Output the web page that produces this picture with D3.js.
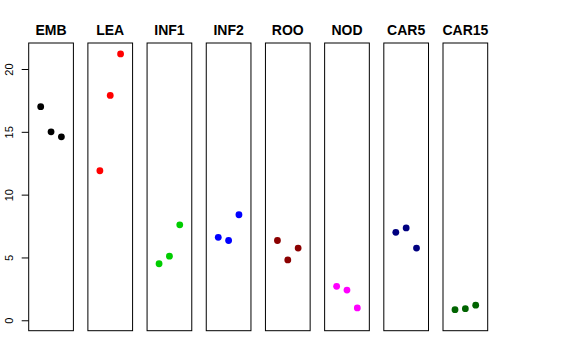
<!DOCTYPE html>
<head>
<meta charset="utf-8">
<style>
body { margin: 0; background: #fff; }
.title { font-family: "Liberation Sans", Arial, sans-serif; font-weight: bold; font-size: 14px; }
.ytick text { font-family: "Liberation Sans", Arial, sans-serif; font-size: 11px; }
</style>
</head>
<body>
<svg width="576" height="360"></svg>
<script src="https://d3js.org/d3.v7.min.js"></script>
<script>
// panel names and their three values each
var groups = ["EMB", "LEA", "INF1", "INF2", "ROO", "NOD", "CAR5", "CAR15"];
var EMB   = [17.0, 15.0, 14.6];
var LEA   = [11.9, 17.9, 21.2];
var INF1  = [4.5, 5.1, 7.6];
var INF2  = [6.6, 6.35, 8.4];
var ROO   = [6.35, 4.8, 5.75];
var NOD   = [2.7, 2.4, 0.98];
var CAR5  = [7.0, 7.35, 5.75];
var CAR15 = [0.84, 0.92, 1.2];
var values = [EMB, LEA, INF1, INF2, ROO, NOD, CAR5, CAR15];
var colors = ["#000000", "#FF0000", "#00CD00", "#0000FF", "#8B0000", "#FF00FF", "#000080", "#006400"];
var yTicks = [0, 5, 10, 15, 20];

var svg = d3.select("svg");

// y scale shared by all panels
var y = d3.scaleLinear().domain([-0.83, 22.07]).range([330.7, 43]);

// each panel gets a band
var panelX = d3.scalePoint().domain(groups).range([28.7, 443]);
var panelW = 44.7;
var x = d3.scaleLinear().domain([-0.16, 4.16]).range([0, panelW]);

var panel = svg.selectAll("g.panel")
  .data(groups)
  .enter().append("g")
  .attr("class", "panel")
  .attr("transform", function(d) { return "translate(" + panelX(d) + ",0)"; });

panel.append("rect")
  .attr("x", 0)
  .attr("y", y.range()[1])
  .attr("width", panelW)
  .attr("height", y.range()[0] - y.range()[1])
  .attr("fill", "none")
  .attr("stroke", "#000")
  .attr("stroke-width", 1);

panel.append("text")
  .attr("class", "title")
  .attr("x", panelW / 2)
  .attr("y", 34.5)
  .attr("text-anchor", "middle")
  .text(function(d) { return d; });

panel.selectAll("circle")
  .data(function(d, i) { return values[i].map(function(v, j) { return {v: v, j: j + 1, c: colors[i]}; }); })
  .enter().append("circle")
  .attr("cx", function(d) { return x(d.j); })
  .attr("cy", function(d) { return y(d.v); })
  .attr("r", 3.4)
  .attr("fill", function(d) { return d.c; });

// y axis on the first panel, labels turned like R does
var axis = svg.append("g")
  .attr("class", "ytick")
  .attr("transform", "translate(28.7,0)")
  .call(d3.axisLeft(y).tickValues(yTicks).tickSize(7).tickPadding(5).tickFormat(d3.format("d")));
axis.select(".domain").remove();
axis.selectAll(".tick line").attr("stroke", "#000");
axis.selectAll(".tick text")
  .attr("fill", "#000")
  .attr("text-anchor", "middle")
  .attr("x", 0)
  .attr("y", 0)
  .attr("dy", 0)
  .attr("transform", "translate(-15.5,0) rotate(-90)");
</script>
</body>
